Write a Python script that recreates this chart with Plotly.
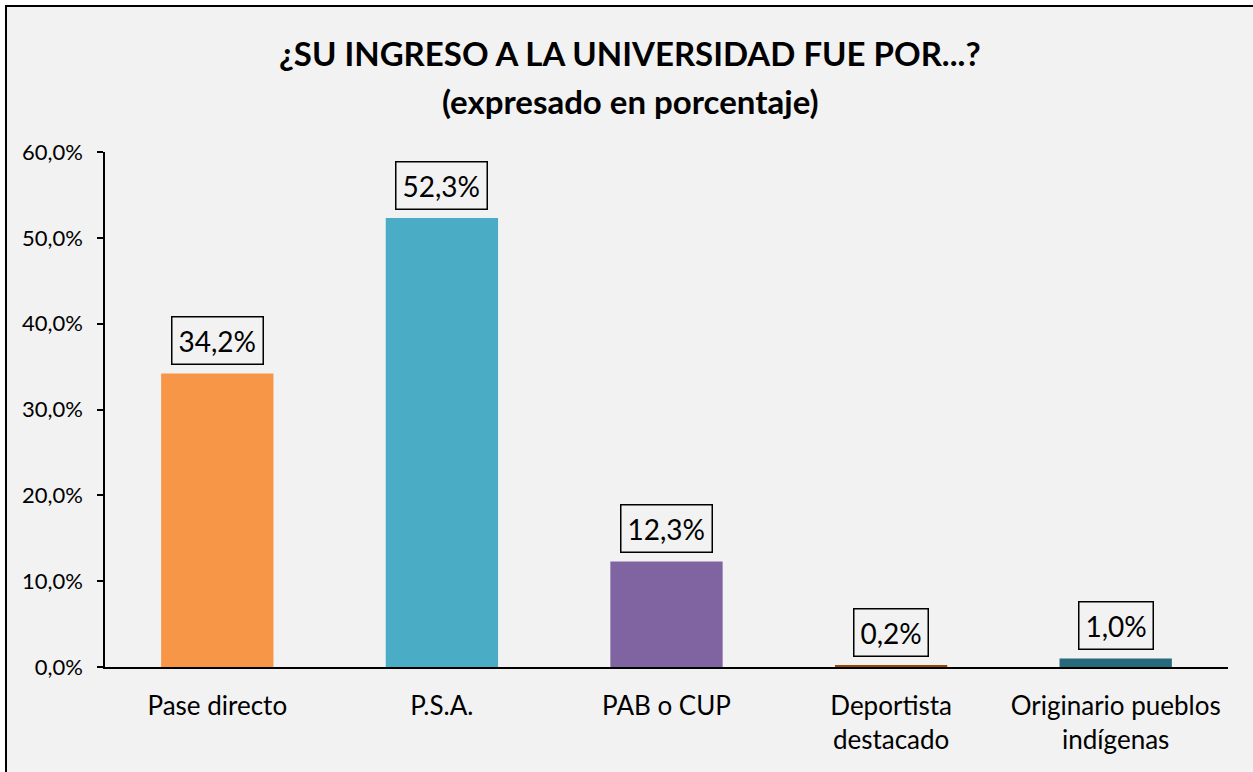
import plotly.graph_objects as go

categories = ["Pase directo", "P.S.A.", "PAB o CUP", "Deportista<br>destacado", "Originario pueblos<br>indígenas"]
values = [34.2, 52.3, 12.3, 0.2, 1.0]
labels = ["34,2%", "52,3%", "12,3%", "0,2%", "1,0%"]
colors = ["#F79646", "#4BACC6", "#8064A2", "#984807", "#276A7C"]
tick_vals = [0, 10, 20, 30, 40, 50, 60]
tick_text = ["0,0%", "10,0%", "20,0%", "30,0%", "40,0%", "50,0%", "60,0%"]
title_lines = ["¿SU INGRESO A LA UNIVERSIDAD FUE POR...?", "(expresado en porcentaje)"]

W, H = 1253, 772
L, R, T, B = 105, 25, 152, 105
pw, ph = W - L - R, H - T - B
FONT = "Lato"

fig = go.Figure(go.Bar(x=categories, y=values, marker_color=colors, marker_line_width=0))

for c, v, t in zip(categories, values, labels):
    fig.add_annotation(x=c, y=v, text=t, showarrow=False, yanchor="bottom", yshift=8,
                       font=dict(size=28, color="black", family=FONT),
                       bordercolor="black", borderwidth=1.5, borderpad=6, bgcolor="#F2F2F2")

# title lines (centres at 52 px and 100 px from the top)
for line, ypx in zip(title_lines, [53, 101]):
    fig.add_annotation(xref="paper", yref="paper", x=(630 - L) / pw, y=1 + (T - ypx) / ph,
                       text="<b>" + line + "</b>", showarrow=False, xanchor="center", yanchor="middle",
                       font=dict(size=33, family=FONT, color="black"))

fig.add_shape(type="rect", xref="paper", yref="paper",
              x0=(6 - L) / pw, x1=(W + 10 - L) / pw,
              y0=-(B + 10) / ph, y1=1 + (T - 6) / ph,
              line=dict(color="black", width=2), fillcolor="#F2F2F2", layer="below")

fig.update_layout(
    width=W, height=H,
    margin=dict(l=L, r=R, t=T, b=B),
    paper_bgcolor="white", plot_bgcolor="rgba(0,0,0,0)",
    bargap=0.5, showlegend=False,
    font=dict(family=FONT, color="black"),
    xaxis=dict(showline=True, linecolor="black", linewidth=1.5, ticks="",
               tickfont=dict(size=26, family=FONT), showgrid=False, ticklabelstandoff=15),
    yaxis=dict(range=[0, 60], tickvals=tick_vals, ticktext=tick_text, showline=True,
               linecolor="black", linewidth=1.5, ticks="outside", ticklen=6, tickwidth=1.5,
               tickcolor="black", showgrid=False, zeroline=False, ticklabelstandoff=10,
               tickfont=dict(size=22, family=FONT)),
)

fig.write_html("out.html", config={"displayModeBar": False},
               post_script="document.body.style.margin='0';")
